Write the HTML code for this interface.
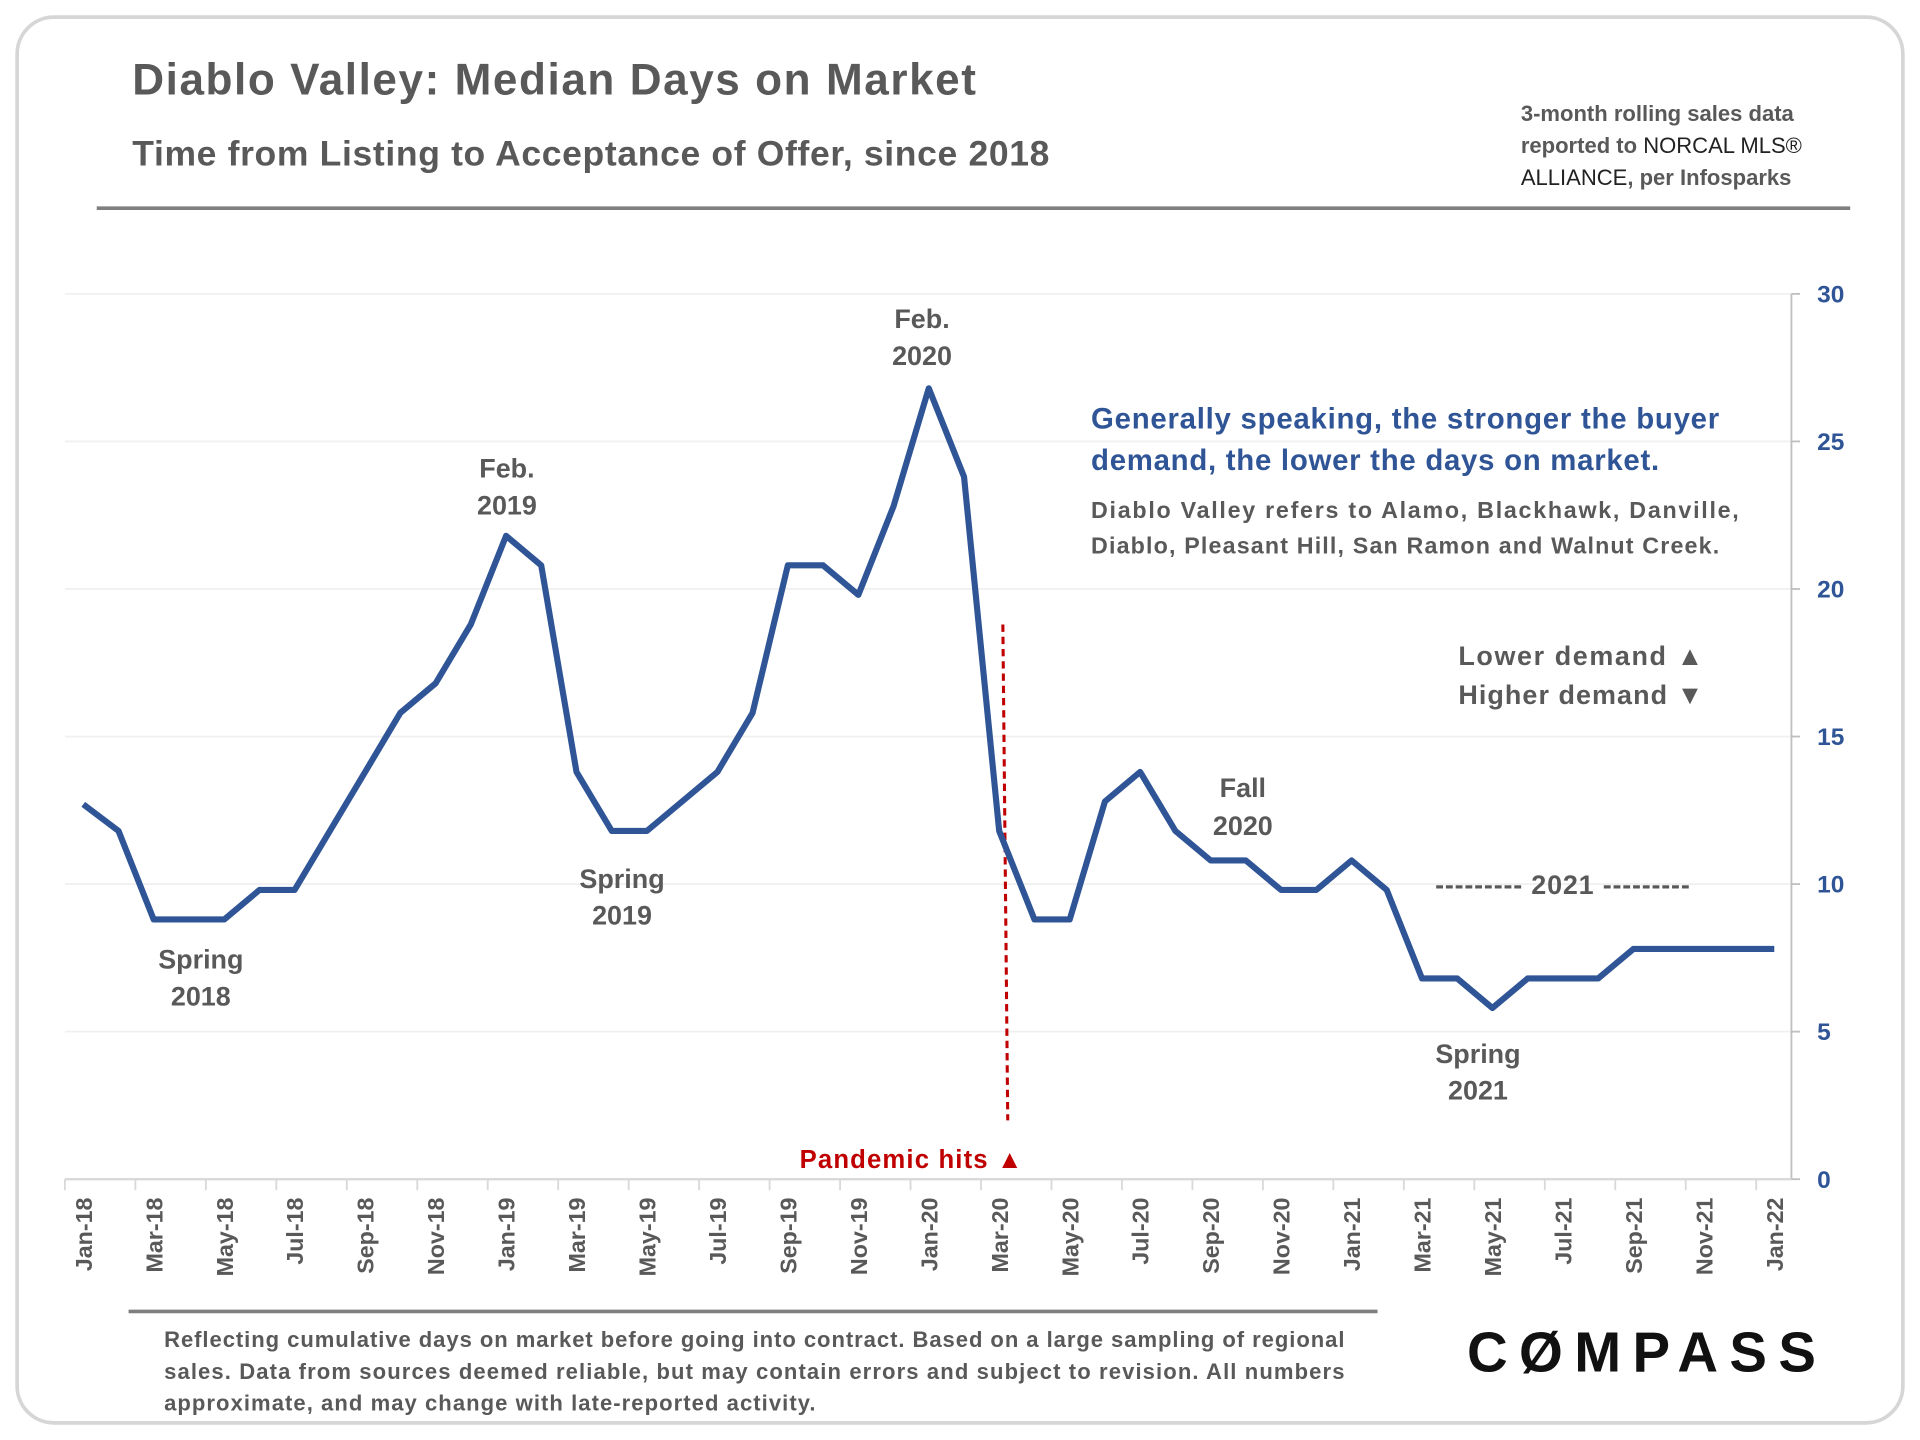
<!DOCTYPE html>
<html><head><meta charset="utf-8"><style>
html,body{margin:0;padding:0;background:#fff}
svg{display:block}
text{font-family:"Liberation Sans",sans-serif;font-weight:bold}
</style></head><body>
<svg id="chart" width="1920" height="1440" viewBox="0 0 1568 1176" xmlns="http://www.w3.org/2000/svg">
<rect x="14" y="14" width="1540" height="1148" rx="30" fill="#fff" stroke="#d6d6d6" stroke-width="3"/>
<text x="108" y="77" font-size="36" fill="#595959" textLength="689">Diablo Valley: Median Days on Market</text>
<text x="108" y="135" font-size="29" fill="#595959" textLength="749">Time from Listing to Acceptance of Offer, since 2018</text>
<g font-size="18" fill="#595959">
<text x="1242" y="99">3-month rolling sales data</text>
<text x="1242" y="125">reported to <tspan fill="#222" font-weight="normal">NORCAL MLS®</tspan></text>
<text x="1242" y="151"><tspan fill="#222" font-weight="normal">ALLIANCE</tspan>, per Infosparks</text>
</g>
<line x1="79" y1="170" x2="1511" y2="170" stroke="#7f7f7f" stroke-width="3"/>
<g id="grid"></g>
<g id="yaxis"></g>
<g id="xaxis"></g>
<line x1="819" y1="510" x2="823" y2="915" stroke="#c00000" stroke-width="2.5" stroke-dasharray="6,4"/>
<text x="653" y="954" font-size="21" fill="#c00000" textLength="182">Pandemic hits ▲</text>
<path id="series" fill="none" stroke="#2f5597" stroke-width="5" stroke-linejoin="round"/>
<g font-size="22" fill="#595959" text-anchor="middle">
<text x="164" y="791">Spring</text><text x="164" y="821">2018</text>
<text x="414" y="390">Feb.</text><text x="414" y="420">2019</text>
<text x="508" y="725">Spring</text><text x="508" y="755">2019</text>
<text x="753" y="268">Feb.</text><text x="753" y="298">2020</text>
<text x="1015" y="651">Fall</text><text x="1015" y="682">2020</text>
<text x="1207" y="868">Spring</text><text x="1207" y="898">2021</text>
<text x="1276" y="730" textLength="208">--------- 2021 ---------</text>
</g>
<g font-size="22" fill="#595959">
<text x="1191" y="543" textLength="200">Lower demand ▲</text>
<text x="1191" y="575" textLength="200">Higher demand ▼</text>
</g>
<g>
<text x="891" y="350" font-size="24" fill="#2f5597" textLength="513">Generally speaking, the stronger the buyer</text>
<text x="891" y="384" font-size="24" fill="#2f5597" textLength="464">demand, the lower the days on market.</text>
<text x="891" y="423" font-size="19" fill="#595959" textLength="529">Diablo Valley refers to Alamo, Blackhawk, Danville,</text>
<text x="891" y="452" font-size="19" fill="#595959" textLength="513">Diablo, Pleasant Hill, San Ramon and Walnut Creek.</text>
</g>
<line x1="105" y1="1071" x2="1125" y2="1071" stroke="#7f7f7f" stroke-width="3"/>
<g font-size="18" fill="#595959">
<text x="134" y="1100" textLength="964">Reflecting cumulative days on market before going into contract. Based on a large sampling of regional</text>
<text x="134" y="1126" textLength="964">sales. Data from sources deemed reliable, but may contain errors and subject to revision. All numbers</text>
<text x="134" y="1152" textLength="532">approximate,  and may change with  late-reported activity.</text>
</g>
<text x="1198" y="1120" font-size="46" fill="#111" font-weight="normal" textLength="285">CØMPASS</text>
</svg>
<script>
const monthLabels=["Jan-18","Mar-18","May-18","Jul-18","Sep-18","Nov-18","Jan-19","Mar-19","May-19","Jul-19","Sep-19","Nov-19","Jan-20","Mar-20","May-20","Jul-20","Sep-20","Nov-20","Jan-21","Mar-21","May-21","Jul-21","Sep-21","Nov-21","Jan-22"];
const yTicks=[0,5,10,15,20,25,30];
const days=[12.7,11.8,8.8,8.8,8.8,9.8,9.8,11.8,13.8,15.8,16.8,18.8,21.8,20.8,13.8,11.8,11.8,12.8,13.8,15.8,20.8,20.8,19.8,22.8,26.8,23.8,11.8,8.8,8.8,12.8,13.8,11.8,10.8,10.8,9.8,9.8,10.8,9.8,6.8,6.8,5.8,6.8,6.8,6.8,7.8,7.8,7.8,7.8,7.8];
const NS="http://www.w3.org/2000/svg";
const x=i=>68+i*(1449-68)/48;
const y=v=>963-v*(963-240)/30;
function mk(t,a,p){const e=document.createElementNS(NS,t);for(const k in a)e.setAttribute(k,a[k]);p.appendChild(e);return e;}
const grid=document.getElementById('grid'),ya=document.getElementById('yaxis'),xa=document.getElementById('xaxis');
yTicks.forEach(v=>{
 if(v>0){const g=mk('line',{x1:53,x2:1463,y1:y(v),y2:y(v),stroke:'#f0f0f0','stroke-width':1.5},grid);
 
 }
 mk('line',{x1:1463,x2:1470,y1:y(v),y2:y(v),stroke:'#bfbfbf','stroke-width':1.5},ya);
 const t=mk('text',{x:1484,y:y(v)+7,'font-size':20,fill:'#2f5597'},ya);t.textContent=v;
 
 
});
mk('line',{x1:1463,x2:1463,y1:240,y2:963,stroke:'#bfbfbf','stroke-width':1.5},ya);
mk('line',{x1:53,x2:1463,y1:963,y2:963,stroke:'#d9d9d9','stroke-width':2},xa);
for(let k=0;k<=24;k++){const xx=53+k*(1463-53)/24.5;mk('line',{x1:xx,x2:xx,y1:963,y2:972,stroke:'#d9d9d9','stroke-width':1.5},xa);}
monthLabels.forEach((m,k)=>{
 const xx=x(k*2)+7;
 const t=mk('text',{x:0,y:0,'font-size':19,fill:'#595959','text-anchor':'end',transform:`translate(${xx},978) rotate(-90)`},xa);
 t.textContent=m;
 
 
});
document.getElementById('series').setAttribute('d',days.map((v,i)=>(i?'L':'M')+x(i).toFixed(1)+','+y(v).toFixed(1)).join(''));
</script>
</body></html>
